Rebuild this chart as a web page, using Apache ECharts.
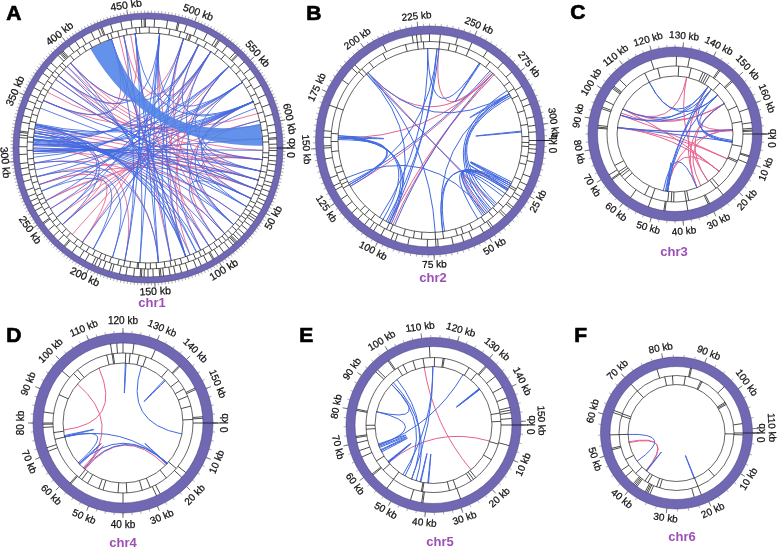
<!DOCTYPE html>
<html><head><meta charset="utf-8">
<style>html,body{margin:0;padding:0;background:#fff}#c{width:777px;height:549px}</style>
<script src="https://cdn.jsdelivr.net/npm/echarts@6/dist/echarts.min.js"></script>
</head><body><div id="c"></div>
<script>
// ---------- data (kb) ----------
const chr1Length = 620;
const chr1Ticks = [0,50,100,150,200,250,300,350,400,450,500,550,600];
const chr1Outer = [2,6,10,13,18,22,27,30,34,38,42,45,49,53,56,58,60,64,68,72,75,78,80,81,82,84,88,93,98,102,103,108,113,117,124,129,134,138,143,145,146,151,155,158,160,161,166,172,177,183,185,190,194,197,199,205,210,217,224,225,231,236,242,248,249,255,260,264,268,272,277,284,289,294,298,305,311,318,320,322,323,330,335,341,347,352,358,364,371,376,381,389,391,392,393,394,400,406,412,420,426,428,429,436,444,452,460,462,463,470,480,488,489,495,503,512,520,522,523,530,538,540,541,548,555,562,570,578,586,594,602,608,612,613,617];
const chr1Inner = [4,8,15,20,25,32,36,40,47,51,55,59,62,66,70,74,79,83,86,90,95,100,106,110,115,121,127,132,136,141,148,153,157,163,164,170,175,180,187,192,196,202,208,214,220,228,233,240,245,251,257,262,266,270,275,281,286,292,296,301,308,315,319,326,332,338,344,350,356,361,368,374,378,384,387,396,403,409,415,423,431,434,440,447,455,458,466,474,483,492,498,500,501,507,515,526,533,544,551,559,566,574,582,590,598,605,610,615];
const chr1Ribbon = [599,618,413,433];
const chr1Blue = [[330,122],[329,118],[327,112],[325,122],[323,108],[321,100],[320,92],[318,83],[317,72],[316,63],[315,53],[314,45],[313,36],[312,28],[310,20],[309,10],[307,2],[305,612],
[331,579],[328,560],[324,542],[320,522],[317,510],[313,579],[307,560],[302,542],[297,522],[291,579],
[285,560],[278,579],[272,542],[263,510],[255,522],[246,496],[238,579],[215,560],[204,522],[186,475],[175,454],[162,475],[146,475],[135,454],[122,433],
[392,122],[388,112],[384,100],[377,72],[373,53],[365,36],[352,20],[345,45],
[496,122],[475,108],[454,146],[444,162],[433,175],[496,135],[542,83],[579,72],
[297,146],[285,186],[272,204],[330,238],[323,246],
[36,579],[28,560],[20,542],[53,522],[45,596],[10,585],[72,28],[92,45],
[454,579],[475,560],[510,579],
[330,330.5],[317,317.5],[307,307.5],[579,579.5],
[392,510],[377,475],[352,444]];
const chr1Pink = [[392,612],[388,2],[384,10],[377,20],[373,28],[365,36],[360,600],[352,590],
[433,122],[440,135],[450,100],[475,83],[496,72],
[522,108],[510,122],[542,118],[579,92],
[330,10],[327,20],[323,36],[317,45],[313,28],[307,63],[297,83],
[285,28],[278,36],[263,10],[255,596],[246,579],[238,560],[226,542],[215,522],
[392,496],[377,454],[352,433],
[278,215],[263,238],[323,175],[310,146],
[475,522],[444,510],[10,45]];

const chr2Length = 307;
const chr2Ticks = [0,25,50,75,100,125,150,175,200,225,250,275,300];
const chr2Outer = [2,4,6,10,17,21,24,27,29,33,34,38,39,46,47,51,57,61,66,73,74,78,87,93,95,100,104,106,109,113,117,121,125,130,132,136,145,150,151,155,158,170,183,190,192,208,222,224,226,230,235,243,250,258,267,273,281,287,290,296,300,303];
const chr2Inner = [1,3,8,12,20,25,26,30,36,40,43,48,55,60,63,70,74,81,85,90,97,99,103,108,112,115,129,131,133,137,140,148,153,157,170,191,193,198,206,218,224,227,235,240,244,250,262,276,280,284,292,299,305];
const chr2Blue = [[234,129],[229,258],[258,258.5],[281,282],[302,302.5],[155,156],[155,98],[156,100],[155,103],[155,129],[154,128],[194,74],[133,45],[69,24],[70,25],[281,39],[282,41],[283,37],[279,43],[46,30],[44,28],[47,26],[42,32],[50,28],[23,24],[24,25],[27,27.5],[193,38],[267,96],[265,130],[234,99],[235,101],[229,105],[194,281],[193,99],[281,70]];
const chr2Pink = [[235,267],[194,267],[155,267],[194,39],[268,99],[268,97],[266,128],[45,27]];

const chr3Length = 170;
const chr3Ticks = [0,10,20,30,40,50,60,70,80,90,100,110,120,130,140,150,160];
const chr3Outer = [7.7,8.1,10.4,24.4,30,30.5,38,46,46.4,52,59,68,68.4,70,87,87.4,88,94,94.6,97,102,102.5,103,106,119,128,132.6,143.7,144.2,149.5,150,161,166,168,168.6,169];
const chr3Inner = [5,11,11.6,23.6,25,37,38,43,44,45.4,52,55,65,67,68,69,72,115,120.5,129,134,139,140,141,142,147,158.6,165];
const chr3Blue = [[115,150],[115,144],[94,144],[94,150],[97,146],[88,168],[88,3.6],[46,150],[46,144],[47,146],[46,46.5],[150,3.6],[146,3],[155,4],[48,32]];
const chr3Pink = [[97,133],[95,155],[97,155],[88,168.5],[88,12],[94,12],[97,19],[88,19],[46,168],[46,19],[133,26],[155,26],[168,30],[155,32],[144,32],[144,168]];

const chr4Length = 160;
const chr4Ticks = [0,10,20,30,40,50,60,70,80,90,100,110,120,130,140,150];
const chr4Outer = [17,19,27.7,29,40,58,58.4,70.8,72,78.6,79.6,80,83.5,98,116,118,120,123.5,130.6,139.7,140.1,148.5,149,158,158.5];
const chr4Inner = [18,23,29.8,32.9,38.6,41.8,47.4,49,53.5,56,57.3,74,76.5,90.6,100,102,114,116,116.4,121,122.6,126,128.6,137.8,143.5,147,150,153.8,158.7];
const chr4Blue = [[121,121.3],[128,4.7],[139.5,140],[74.2,74.6],[74,61.5],[74,18.7],[61,18.7],[58,19],[19,19.3],[60.5,61]];
const chr4Pink = [[109.5,77],[98,57.7],[57.5,20],[58,58.5]];

const chr5Length = 151;
const chr5Ticks = [0,10,20,30,40,50,60,70,80,90,100,110,120,130,140,150];
const chr5Outer = [6.4,29.3,41,41.4,44.9,53,58.9,59.3,65.4,67.5,70,71.6,72,80,80.4,93.4,94.2,98.4,98.8,112,130.6,131,135,139,142.5,145.6,146.4,147.2,149];
const chr5Inner = [6.9,13,21.5,22.5,23.5,29.5,32,41.7,42.1,53,58,62,74,75.4,99.8,102,105.8,109.5,113.6,116.7,117.1,126.6,130,146.7,149.7];
const chr5Blue = [[113,51],[113,47],[126,67],[134.8,135.2],[135,135.3],[95,45],[97,47],[94,50],[81,94],[81,67],[65,66],[66.5,67.5],[64,64.6],[58.7,59],[59,59.3],[39.8,40.1],[43,43.3]];
const chr5Pink = [[109.4,21],[58.7,6.7]];

const chr6Length = 111;
const chr6Ticks = [0,10,20,30,40,50,60,70,80,90,100,110];
const chr6Outer = [0.5,21,23,35,35.6,36,36.4,39,39.4,39.8,40.2,43,45,51,51.4,55,61,61.6,70,78,87,87.3,97.4,108.5];
const chr6Inner = [0.3,15,21,33,34,37,38,41.7,47,55,60.8,61.5,70,79.6,82,86,91,91.4,101,101.4,101.8];
const chr6Blue = [[55,44.5],[39.5,39.7],[21,21.2]];
const chr6Pink = [[52,39.5],[52.3,39.8]];

// ---------- layout ----------
const panels = [
 {name:'chr1',letter:'A',lx:6, ly:3, nx:152,ny:303,cx:148,  cy:148,  R:135,  ring:129,  mid:121,  inner:115,  len:chr1Length,major:50,ticks:chr1Ticks,outer:chr1Outer,innerG:chr1Inner,blue:chr1Blue,pink:chr1Pink,ribbon:chr1Ribbon,pad:9,lastPad:9,zeroDeg:0,lw:0.85,fs:10.5},
 {name:'chr2',letter:'B',lx:306,ly:3, nx:433,ny:278,cx:430,  cy:140.5,R:114.5,ring:106.5,mid:99,   inner:92,   len:chr2Length,major:25,ticks:chr2Ticks,outer:chr2Outer,innerG:chr2Inner,blue:chr2Blue,pink:chr2Pink,pad:10,lastPad:10,zeroDeg:1.5,lw:1,fs:10},
 {name:'chr3',letter:'C',lx:570,ly:2, nx:674,ny:252,cx:675,  cy:134,  R:87,   ring:77.5, mid:68,   inner:58,   len:chr3Length,major:10,ticks:chr3Ticks,outer:chr3Outer,innerG:chr3Inner,blue:chr3Blue,pink:chr3Pink,pad:11,lastPad:11,zeroDeg:2.5,lw:1,fs:10},
 {name:'chr4',letter:'D',lx:6, ly:325,nx:123,ny:543,cx:123,  cy:423,  R:90,   ring:80,   mid:70,   inner:60,   len:chr4Length,major:10,ticks:chr4Ticks,outer:chr4Outer,innerG:chr4Inner,blue:chr4Blue,pink:chr4Pink,pad:12,lastPad:12,zeroDeg:0,lw:1,fs:10},
 {name:'chr5',letter:'E',lx:299,ly:325,nx:440,ny:542,cx:433.5,cy:425,  R:87.5, ring:78.5, mid:67.5, inner:58.5, len:chr5Length,major:10,ticks:chr5Ticks,outer:chr5Outer,innerG:chr5Inner,blue:chr5Blue,pink:chr5Pink,pad:11,lastPad:20,zeroDeg:0,lw:1,fs:10},
 {name:'chr6',letter:'F',lx:574,ly:325,nx:682,ny:537,cx:676.5,cy:433,  R:76,   ring:66.5, mid:57.5, inner:48.5, len:chr6Length,major:10,ticks:chr6Ticks,outer:chr6Outer,innerG:chr6Inner,blue:chr6Blue,pink:chr6Pink,pad:10,lastPad:19,zeroDeg:0,lw:1,fs:10}
];
const BLUE='#4169e1', PINK='#e5638f', RIBBON='#4f82e6', PURPLE='#7068b2';

const polar=[],angleAxis=[],radiusAxis=[],series=[],graphic=[];
panels.forEach((p,i)=>{
  polar.push({center:[p.cx,p.cy],radius:[0,p.R]});
  radiusAxis.push({polarIndex:i,type:'value',min:0,max:1,axisLine:{show:false},axisTick:{show:false},axisLabel:{show:false},splitLine:{show:false}});
  angleAxis.push({polarIndex:i,type:'value',min:0,max:p.len,interval:p.major,startAngle:0,clockwise:true,
    axisLine:{show:false},splitLine:{show:false},axisLabel:{show:false},
    axisTick:{show:true,length:5,lineStyle:{color:'#555',width:0.8}},minorTick:{show:false}});
  const base={type:'custom',coordinateSystem:'polar',polarIndex:i,silent:true,animation:false,clip:false};
  const f=r=>r/p.R;

  // links
  const linkSeries=(arr,color,z)=>({...base,z,data:arr.map(l=>[f(p.inner),l[0],l[1]]),
    encode:{radius:0,angle:1},
    renderItem:(_,api)=>{
      const c=api.coord([0,0]),a=api.coord([api.value(0),api.value(1)]),b=api.coord([api.value(0),api.value(2)]);
      return {type:'bezierCurve',shape:{x1:a[0],y1:a[1],x2:b[0],y2:b[1],cpx1:c[0],cpy1:c[1]},style:{stroke:color,fill:null,lineWidth:p.lw}};
    }});
  series.push(linkSeries(p.pink,PINK,3));
  series.push(linkSeries(p.blue,BLUE,4));
  if(p.ribbon){
    series.push({...base,z:4.5,data:[[f(p.inner),...p.ribbon]],encode:{radius:0,angle:1},renderItem:(_,api)=>{
      const r=api.value(0),c=api.coord([0,0]);
      const a1=api.coord([r,api.value(1)]),a2=api.coord([r,api.value(2)]),b1=api.coord([r,api.value(3)]),b2=api.coord([r,api.value(4)]);
      const d=`M${a1[0]} ${a1[1]} Q${c[0]} ${c[1]} ${b2[0]} ${b2[1]} L${b1[0]} ${b1[1]} Q${c[0]} ${c[1]} ${a2[0]} ${a2[1]} Z`;
      return {type:'path',shape:{pathData:d},style:{fill:RIBBON,opacity:0.88,stroke:null}};
    }});
  }

  // purple ring + track circles
  series.push({...base,z:5,data:[[f(p.R),0]],encode:{radius:0,angle:1},renderItem:(_,api)=>{
    const c=api.coord([0,0]);
    return {type:'group',children:[
      {type:'ring',shape:{cx:c[0],cy:c[1],r:p.R,r0:p.ring},style:{fill:PURPLE,stroke:'#3f3b78',lineWidth:0.5}},
      {type:'circle',shape:{cx:c[0],cy:c[1],r:p.mid},style:{fill:null,stroke:'#222',lineWidth:0.7}},
      {type:'circle',shape:{cx:c[0],cy:c[1],r:p.inner},style:{fill:null,stroke:'#222',lineWidth:0.7}}
    ]};
  }});

  // gene boundaries
  const geneData=[...p.outer.map(k=>[f(p.mid),k,f(p.ring)]),...p.innerG.map(k=>[f(p.inner),k,f(p.mid)])];
  series.push({...base,z:6,data:geneData,encode:{radius:0,angle:1},renderItem:(_,api)=>{
    const a=api.coord([api.value(0),api.value(1)]),b=api.coord([api.value(2),api.value(1)]);
    return {type:'line',shape:{x1:a[0],y1:a[1],x2:b[0],y2:b[1]},style:{stroke:'#111',lineWidth:0.75}};
  }});

  // zero line across the ring
  series.push({...base,z:7,data:[[f(p.mid),0,1+7/p.R]],encode:{radius:0,angle:1},renderItem:(_,api)=>{
    const a=api.coord([api.value(0),0]),b=api.coord([api.value(2),0]);
    return {type:'line',shape:{x1:a[0],y1:a[1],x2:b[0],y2:b[1]},style:{stroke:'#111',lineWidth:0.8}};
  }});

  // minor ticks every 2.5 kb
  const minor=[];for(let k=0;k<p.len;k+=2.5)minor.push([1,k]);
  series.push({...base,z:1,data:minor,encode:{radius:0,angle:1},renderItem:(_,api)=>{
    const a=api.coord([1,api.value(1)]),b=api.coord([1+2.5/p.R,api.value(1)]);
    return {type:'line',shape:{x1:a[0],y1:a[1],x2:b[0],y2:b[1]},style:{stroke:'#777',lineWidth:0.6}};
  }});

  // tick labels (tangent text)
  const lastTick=p.ticks[p.ticks.length-1];
  series.push({...base,z:8,data:p.ticks.map(k=>[1+(k===lastTick?p.lastPad:p.pad)/p.R,k]),encode:{radius:0,angle:1},renderItem:(_,api)=>{
    const k=api.value(1),th=k/p.len*360;
    const pos=api.coord([api.value(0),k===0?p.zeroDeg/360*p.len:k]);
    const rot=th<180?th-90:th-270;
    return {type:'text',x:pos[0],y:pos[1],rotation:-rot*Math.PI/180,
      style:{text:k+' kb',textAlign:'center',textVerticalAlign:'middle',fill:'#111',stroke:'#111',lineWidth:0.25,font:p.fs+'px "Liberation Sans",Arial,sans-serif'}};
  }});

  graphic.push({type:'text',left:p.lx,top:p.ly,style:{text:p.letter,fill:'#000',font:'900 21px "Liberation Sans",Arial,sans-serif',stroke:'#000',lineWidth:0.7}});
  graphic.push({type:'text',x:p.nx,y:p.ny,style:{text:p.name,fill:'#9c4fb5',textAlign:'center',textVerticalAlign:'middle',font:'bold 13px "Liberation Sans",Arial,sans-serif'}});
});

const chart=echarts.init(document.getElementById('c'),null,{renderer:'canvas'});
chart.setOption({animation:false,backgroundColor:'#fff',polar,angleAxis,radiusAxis,series,graphic});
</script></body></html>
